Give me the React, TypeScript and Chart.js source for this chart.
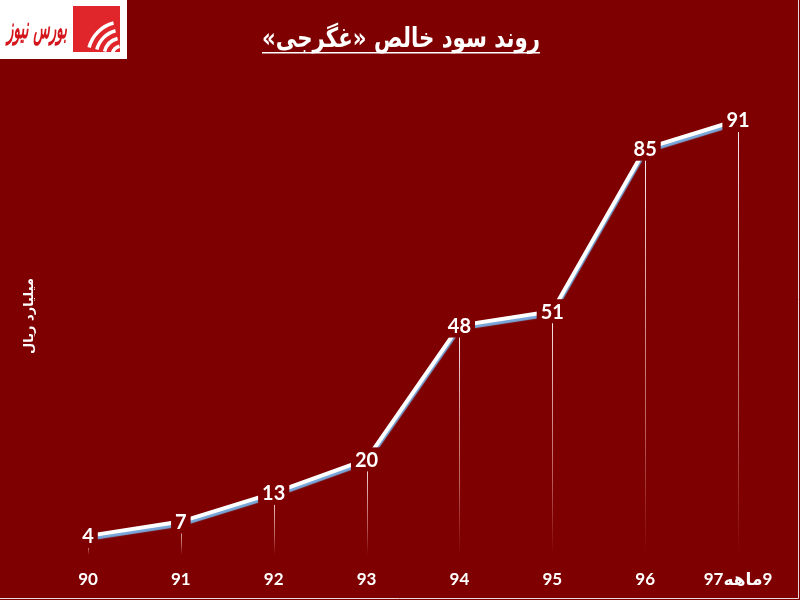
import React, { useEffect, useRef } from 'react';
import { Chart, registerables } from 'chart.js';

Chart.register(...registerables);

const years = ['90', '91', '92', '93', '94', '95', '96', '9ماهه97'];
const netProfit = [4, 7, 13, 20, 48, 51, 85, 91];
const titleText = 'روند سود خالص «غگرجی»';
const yAxisTitle = 'میلیارد ریال';
const logoText = 'بورس نیوز';
const yMin = 0;
const yMax = 100;

const BG = '#7f0000';
const NUM_FONT = 'Lato, "DejaVu Sans", sans-serif';
const AR_FONT = '"DejaVu Sans", sans-serif';

const decorPlugin = {
  id: 'decor',
  beforeDraw(chart: any) {
    const { ctx, width, height } = chart;
    ctx.save();
    ctx.fillStyle = BG;
    ctx.fillRect(0, 0, width, height);
    // light frame at right / bottom edges
    ctx.strokeStyle = 'rgba(255,255,255,0.85)';
    ctx.lineWidth = 1;
    ctx.beginPath();
    ctx.moveTo(width - 1.5, 0);
    ctx.lineTo(width - 1.5, height - 1.5);
    ctx.lineTo(0, height - 1.5);
    ctx.stroke();

    // logo box
    ctx.fillStyle = '#ffffff';
    ctx.fillRect(0, 0, 127, 59);
    ctx.fillStyle = '#e0252b';
    ctx.fillRect(73, 6, 47, 46);
    ctx.strokeStyle = '#ffffff';
    ctx.lineWidth = 3.5;
    [10, 18, 26, 34].forEach((r) => {
      ctx.beginPath();
      ctx.arc(122, 56, r, Math.PI * 1.08, Math.PI * 1.42);
      ctx.stroke();
    });
    ctx.fillStyle = '#d4161c';
    ctx.font = 'italic bold 30px ' + AR_FONT;
    ctx.textAlign = 'center';
    ctx.textBaseline = 'middle';
    ctx.direction = 'rtl';
    ctx.fillText(logoText, 37, 30, 60);

    // title
    ctx.fillStyle = '#ffffff';
    ctx.font = 'bold 27px ' + AR_FONT;
    ctx.textAlign = 'center';
    ctx.textBaseline = 'alphabetic';
    ctx.direction = 'rtl';
    const maxW = 278;
    const tw = Math.min(maxW, ctx.measureText(titleText).width);
    ctx.fillText(titleText, 401, 47, maxW);
    ctx.fillRect(401 - tw / 2, 52, tw, 1.5);
    ctx.restore();
  },
  beforeDatasetsDraw(chart: any) {
    const { ctx, chartArea } = chart;
    const meta = chart.getDatasetMeta(0);
    ctx.save();
    meta.data.forEach((pt: any) => {
      const g = ctx.createLinearGradient(0, pt.y, 0, chartArea.bottom);
      g.addColorStop(0, 'rgba(255,255,255,0.95)');
      g.addColorStop(0.7, 'rgba(255,200,200,0.45)');
      g.addColorStop(1, 'rgba(255,200,200,0)');
      ctx.strokeStyle = g;
      ctx.lineWidth = 1;
      ctx.beginPath();
      ctx.moveTo(Math.round(pt.x) + 0.5, pt.y);
      ctx.lineTo(Math.round(pt.x) + 0.5, chartArea.bottom);
      ctx.stroke();
    });
    ctx.restore();
  },
  beforeDatasetDraw(chart: any) {
    const { ctx } = chart;
    ctx.save();
    ctx.shadowColor = '#79a9dc';
    ctx.shadowOffsetX = 0;
    ctx.shadowOffsetY = 3;
    ctx.shadowBlur = 1;
  },
  afterDatasetDraw(chart: any) {
    chart.ctx.restore();
  },
  afterDatasetsDraw(chart: any) {
    const { ctx } = chart;
    const meta = chart.getDatasetMeta(0);
    const values = chart.data.datasets[0].data;
    ctx.save();
    ctx.font = 'bold 20px ' + NUM_FONT;
    ctx.textAlign = 'center';
    ctx.textBaseline = 'middle';
    meta.data.forEach((pt: any, i: number) => {
      const txt = String(values[i]);
      const w = ctx.measureText(txt).width;
      ctx.fillStyle = BG;
      ctx.fillRect(pt.x - w / 2 - 4, pt.y - 12, w + 8, 24);
      ctx.fillStyle = '#ffffff';
      ctx.fillText(txt, pt.x, pt.y + 1);
    });
    ctx.restore();
  },
};

export default function App() {
  const ref = useRef<HTMLCanvasElement>(null);
  useEffect(() => {
    if (!ref.current) return;
    const chart = new Chart(ref.current, {
      type: 'line',
      data: {
        labels: years,
        datasets: [
          {
            data: netProfit,
            borderColor: '#ffffff',
            borderWidth: 4,
            pointRadius: 0,
            tension: 0,
            fill: false,
          },
        ],
      },
      options: {
        responsive: false,
        animation: false,
        layout: { padding: { left: 19, right: 62, top: 77, bottom: 0 } },
        plugins: {
          legend: { display: false },
          tooltip: { enabled: false },
          title: { display: false },
        },
        scales: {
          x: {
            offset: false,
            grid: { display: false, drawTicks: false },
            border: { display: false },
            ticks: {
              color: '#ffffff',
              font: { family: NUM_FONT, size: 17, weight: 'bold' },
              padding: 14,
              maxRotation: 0,
              autoSkip: false,
              callback: (_v: any, i: number) => '\u200F' + years[i],
            },
            afterFit: (scale: any) => {
              scale.height = 45;
            },
          },
          y: {
            min: yMin,
            max: yMax,
            grid: { display: false, drawTicks: false },
            border: { display: false },
            ticks: { display: false },
            title: {
              display: true,
              text: yAxisTitle,
              color: '#ffffff',
              font: { family: AR_FONT, size: 13, weight: 'bold' },
              padding: { top: 3, bottom: 3 },
            },
            afterFit: (scale: any) => {
              scale.width = 69;
            },
          },
        },
      },
      plugins: [decorPlugin],
    });
    return () => chart.destroy();
  }, []);
  return (
    <div style={{ position: 'absolute', left: 0, top: 0, width: 800, height: 600 }}>
      <canvas ref={ref} width={800} height={600} />
    </div>
  );
}
